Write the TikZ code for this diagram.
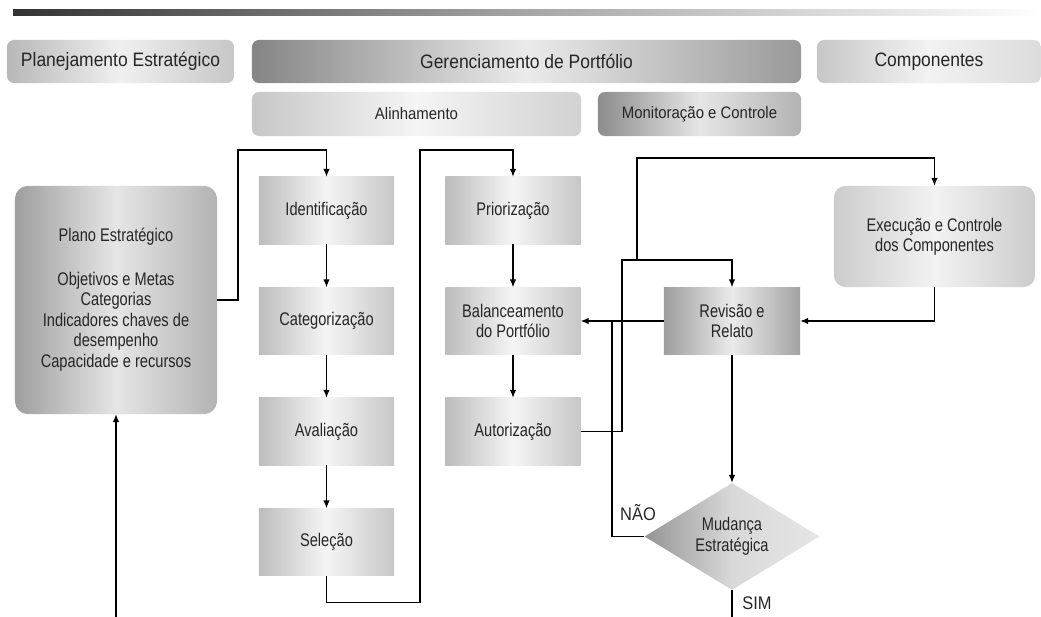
\documentclass[tikz,border=0pt]{standalone}
\usepackage{fontspec}
\setmainfont{Liberation Sans}[FakeStretch=0.8]
\newfontfamily\headfont{Liberation Sans}[FakeStretch=0.9]
\usepackage{tikz}
\usetikzlibrary{arrows.meta,shapes.geometric,positioning}

\begin{document}
\begin{tikzpicture}[x=0.025cm,y=-0.025cm,
  every node/.style={text=black!85},
  head/.style={rounded corners=5pt,minimum height=1.075cm,font=\headfont\fontsize{13.8}{15}\selectfont},
  sub/.style={rounded corners=5pt,minimum height=1.1cm,font=\headfont\fontsize{11.8}{13}\selectfont},
  proc/.style={minimum width=3.375cm,minimum height=1.675cm,align=center,
    font=\fontsize{13}{14.5}\selectfont,
    left color=black!26,right color=black!22,middle color=black!4},
  arr/.style={-{Latex[length=5.5pt,width=4.5pt]},line width=0.75pt},
  wire/.style={line width=0.75pt}]
  \useasboundingbox (0,0) rectangle (1041,617);
  \shade[left color=black!80,right color=white,middle color=black!35] (13,10) rectangle (1041,16);
  % cabecalhos
  \node[head,left color=black!28,right color=black!22,middle color=black!6,minimum width=5.675cm]
    (plan) at (120.5,61.5) {Planejamento Estratégico};
  \node[head,left color=black!48,right color=black!40,middle color=black!8,minimum width=13.725cm]
    (geren) at (526.5,61.5) {Gerenciamento de Portfólio};
  \node[head,left color=black!22,right color=black!14,middle color=black!5,minimum width=5.6cm]
    (comp) at (929,61.5) {Componentes};
  \node[sub,left color=black!22,right color=black!18,middle color=black!4,minimum width=8.225cm]
    (alin) at (416.5,114) {Alinhamento};
  \node[sub,left color=black!45,right color=black!30,middle color=black!10,minimum width=5.075cm]
    (moni) at (699.5,114) {Monitoração e Controle};
  % plano
  \node[rounded corners=9pt,minimum width=5.05cm,minimum height=5.7cm,align=center,
    font=\fontsize{13}{14.5}\selectfont,
    left color=black!38,right color=black!30,middle color=black!10] (plano) at (116,300)
    {\raisebox{0.275cm}{\begin{tabular}{@{}c@{}}Plano Estratégico\\[17pt]
      Objetivos e Metas\\ Categorias\\ Indicadores chaves de\\ desempenho\\
      Capacidade e recursos\end{tabular}}};
  % alinhamento
  \node[proc] (ident) at (326.5,210.5) {Identificação};
  \node[proc] (categ) at (326.5,321) {Categorização};
  \node[proc] (aval) at (326.5,431.5) {Avaliação};
  \node[proc] (sele) at (326.5,542) {Seleção};
  \node[proc] (prio) at (513,210.5) {Priorização};
  \node[proc] (bal) at (513,321) {Balanceamento\\do Portfólio};
  \node[proc] (aut) at (513,431.5) {Autorização};
  % monitoracao
  \node[proc,minimum width=3.4cm,left color=black!38,right color=black!36,middle color=black!8]
    (rev) at (732,321) {Revisão e\\Relato};
  \node[proc,rounded corners=8pt,minimum width=5.025cm,minimum height=2.525cm,
    left color=black!20,right color=black!20,middle color=black!5]
    (exec) at (934.5,236.5) {Execução e Controle\\dos Componentes};
  \node[diamond,aspect=1.636,inner sep=0pt,minimum width=4.375cm,minimum height=2.675cm,
    align=center,font=\fontsize{13}{15}\selectfont,
    left color=black!42,right color=black!10,middle color=black!15]
    (mud) at (732,536.5) {Mudança\\Estratégica};
  % conectores
  \draw[arr] (plano.east) -- (238,300) |- (326.5,150) -- (ident.north);
  \foreach \a/\b in {ident/categ,categ/aval,aval/sele,prio/bal,bal/aut}
    \draw[arr] (\a) -- (\b);
  \draw[arr] (sele.south) -- ++(0,27) -| (420,150) -| (prio.north);
  \coordinate (split) at (637,260);
  \draw[arr] (aut.east) -| (622,260) -| (rev.north);
  \draw[arr] (split) |- (934.5,158) -- (exec.north);
  \draw[arr] (exec.south) |- (rev.east);
  \draw[arr] (rev.west) -- (bal.east);
  \draw[wire] (mud.west) -| (612,321);
  \draw[arr] (rev.south) -- (mud.north);
  \draw[wire] (mud.south) -- ++(0,30);
  \draw[arr] (plano.south |- 0,620) -- (plano.south);
  \node[font=\headfont\fontsize{13}{15}\selectfont] (nao) at (638,513) {NÃO};
  \node[font=\headfont\fontsize{13}{15}\selectfont] (sim) at (757,603) {SIM};
\end{tikzpicture}
\end{document}
